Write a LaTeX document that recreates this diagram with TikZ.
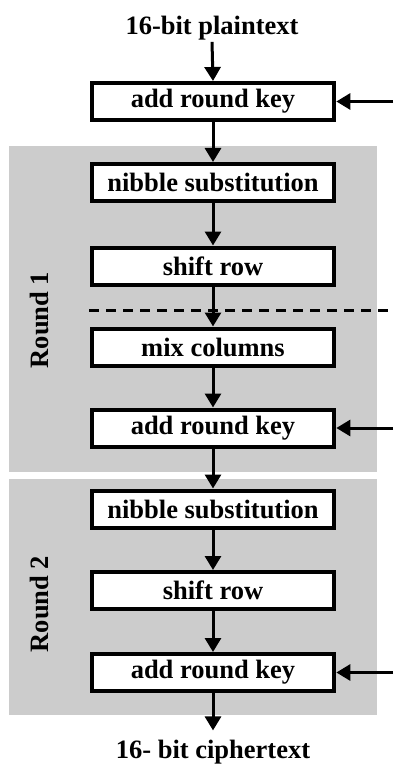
\documentclass[tikz,border=0pt]{standalone}
\usepackage{fontspec}
\setmainfont{Liberation Serif}
\usetikzlibrary{arrows.meta}
\begin{document}
\begin{tikzpicture}[x=1pt,y=-1pt,
  every node/.style={font=\fontsize{26.5}{30}\selectfont\bfseries},
  stagebox/.style={draw=black,fill=white,line width=4pt,minimum width=242.7pt,minimum height=37pt,inner sep=0pt},
  flow/.style={line width=3pt,-{Triangle[length=14pt,width=16pt]}},
  roundbg/.style={fill=black!20,draw=none},
  sep/.style={line width=3pt,dash pattern=on 10pt off 7pt}]
\useasboundingbox (0,0) rectangle (393,767);
\fill[white] (0,0) rectangle (393,767);
% round backgrounds
\path[roundbg] (9,146) rectangle (377,472);
\path[roundbg] (9,479) rectangle (377,715);
% texts
\node[anchor=base,inner sep=1pt] (plain) at (212,35) {16-bit plaintext};
\node[anchor=base,inner xsep=1pt,inner ysep=9pt] (cipher) at (213,758) {16- bit ciphertext};
\node[rotate=90,inner sep=0pt] (r1) at (39.5,320) {Round 1};
\node[rotate=90,inner sep=0pt] (r2) at (39.5,604) {Round 2};
% boxes
\node[stagebox] (a1) at (213,101.5) {add round key};
\node[stagebox] (n1) at (213,182.5) {nibble substitution};
\node[stagebox] (s1) at (213,266) {shift row};
\node[stagebox] (m1) at (213,347) {mix columns};
\node[stagebox] (k1) at (213,428) {add round key};
\node[stagebox] (n2) at (213,509) {nibble substitution};
\node[stagebox] (s2) at (213,590.5) {shift row};
\node[stagebox] (k2) at (213,672.5) {add round key};
% dashed separator
\coordinate (dl) at (89,310);
\coordinate (dr) at (393,310);
\draw[sep] (dl) -- (dr);
% key inputs
\coordinate (ka1) at (393,101.5);
\coordinate (kk1) at (393,428);
\coordinate (kk2) at (393,672.5);
\draw[flow] (ka1) -- (a1.east);
\draw[flow] (kk1) -- (k1.east);
\draw[flow] (kk2) -- (k2.east);
% main flow
\draw[flow] (plain.south) -- (a1.north);
\draw[flow] (a1.south) -- (n1.north);
\draw[flow] (n1.south) -- (s1.north);
\draw[flow] (s1.south) -- (m1.north);
\draw[flow] (m1.south) -- (k1.north);
\draw[flow] (k1.south) -- (n2.north);
\draw[flow] (n2.south) -- (s2.north);
\draw[flow] (s2.south) -- (k2.north);
\draw[flow] (k2.south) -- (cipher.north);
\end{tikzpicture}
\end{document}
